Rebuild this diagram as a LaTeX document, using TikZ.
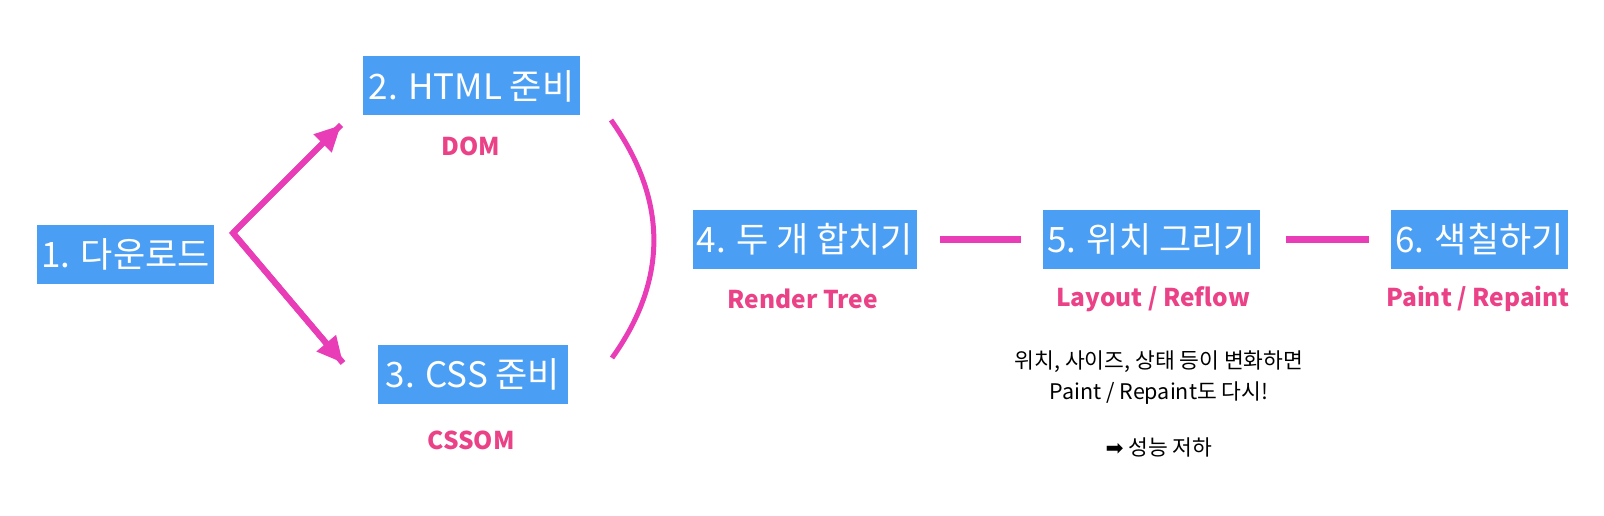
\documentclass[tikz,border=0pt]{standalone}
\usepackage{fontspec}
\setmainfont{Noto Sans CJK KR}
\newfontfamily\symfont{DejaVu Sans}
\usetikzlibrary{arrows.meta}
\definecolor{StepBlue}{HTML}{4A9FF5}
\definecolor{FlowPink}{HTML}{E83DB6}
\definecolor{LabelRose}{HTML}{EA4187}

\begin{document}
\begin{tikzpicture}[x=1pt,y=-1pt,line join=miter,
  stepbox/.style={fill=StepBlue,text=white,font=\fontsize{35}{38}\selectfont,minimum height=59pt,inner xsep=4pt,inner ysep=0pt},
  tag/.style={text=LabelRose,font=\fontsize{24.5}{27}\selectfont\bfseries},
  flow/.style={FlowPink,line width=6pt},
  push/.style={flow,-{Triangle[length=26pt,width=24pt]}}]
  \useasboundingbox (0,0) rectangle (1604,516);
  % steps
  \node[stepbox,minimum width=173pt] (dl) at (125.5,254.5) {1. 다운로드};
  \node[stepbox,minimum width=217pt] (html) at (471.5,86) {2. HTML 준비};\node[tag] (dom) at (471,146) {DOM};
  \node[stepbox,minimum width=190pt] (css) at (473,374.5) {3. CSS 준비};\node[tag] (cssom) at (471,440) {CSSOM};
  \node[stepbox,minimum width=222pt] (merge) at (805,239.5) {4. 두 개 합치기};\node[tag] (rtree) at (803,299) {Render Tree};
  \node[stepbox,minimum width=213pt] (layout) at (1151.5,239.5) {5. 위치 그리기};\node[tag] (reflow) at (1153,299) {Layout / Reflow};
  \node[stepbox,minimum width=177pt] (paint) at (1479.5,239.5) {6. 색칠하기};\node[tag] (repaint) at (1478,299) {Paint / Repaint};
  % connectors
  \coordinate (fork) at (233,233);\coordinate (toHtml) at (341,125);\coordinate (toCss) at (343,363);
  \draw[push] (fork)--(toHtml);\draw[push] (fork)--(toCss);
  \draw[flow,line join=miter] (toHtml)--(fork)--(toCss);
  \coordinate (bendtop) at (611,120);\coordinate (bendbot) at (612,358);
  \draw[flow,line width=5pt] (bendtop) .. controls (668,200) and (668,280) .. (bendbot);
  \draw[flow,line width=7pt,shorten <=23pt,shorten >=22pt] (merge.east)--(layout.west);
  \draw[flow,line width=7pt,shorten <=26pt,shorten >=22pt] (layout.east)--(paint.west);
  % note
  \node[align=center,font=\fontsize{21.5}{31}\selectfont] (note) at (1159,378) {위치, 사이즈, 상태 등이 변화하면\\Paint / Repaint도 다시!};
  \node[font=\fontsize{21.5}{24}\selectfont] (drop) at (1159,447) {{\symfont ➡} 성능 저하};
\end{tikzpicture}
\end{document}
